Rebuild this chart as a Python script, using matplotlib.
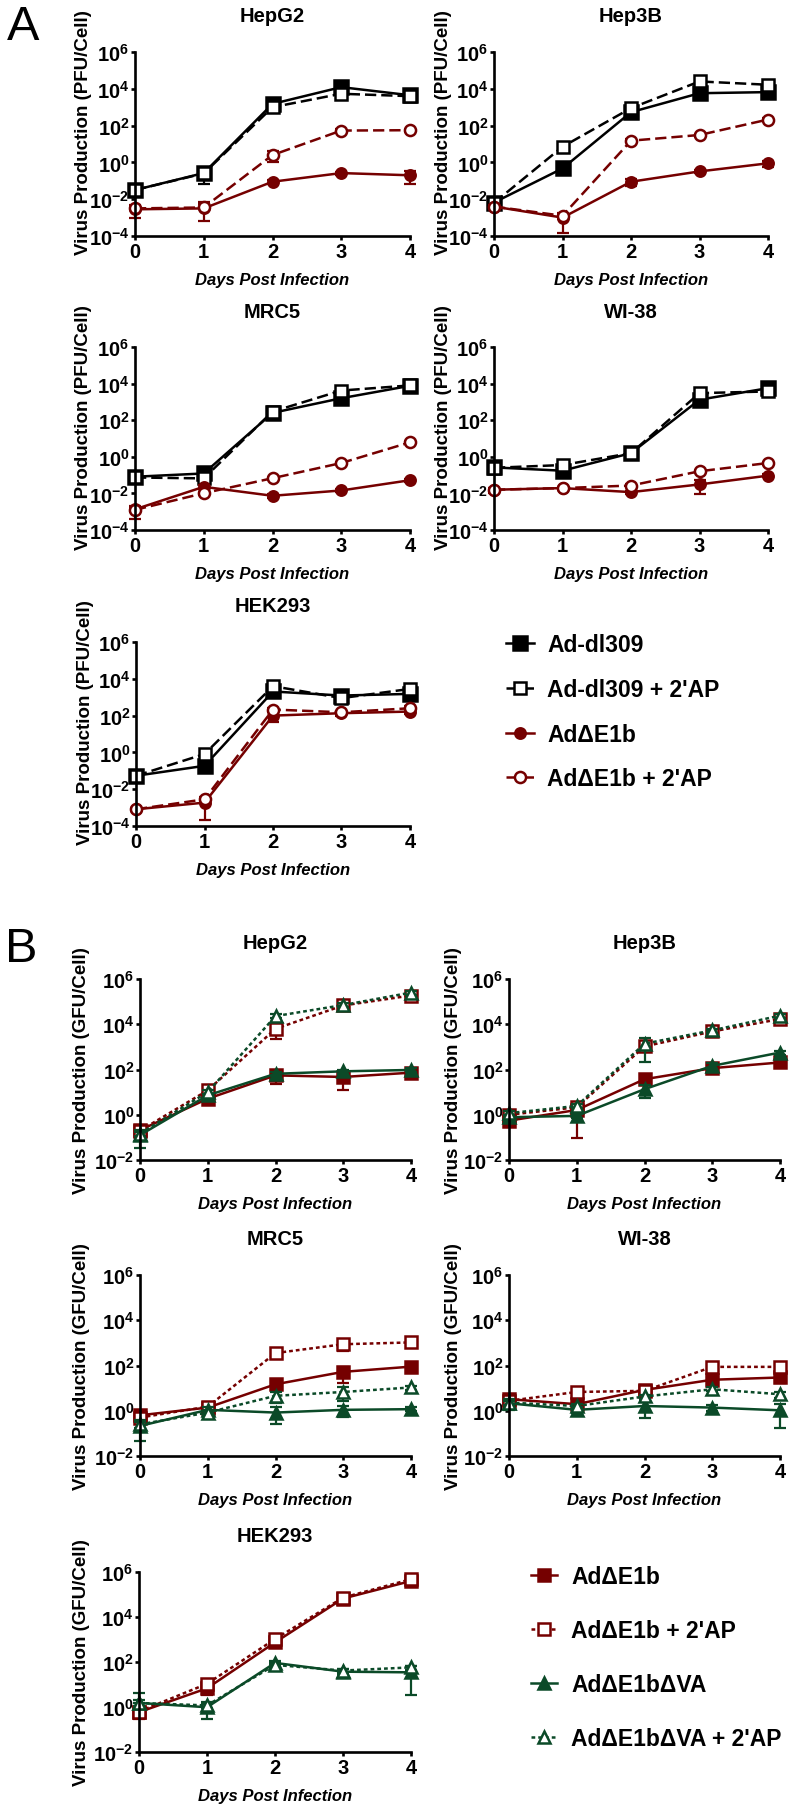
import matplotlib.pyplot as plt
import numpy as np
from matplotlib.lines import Line2D

plt.rcParams['font.family'] = ['Liberation Sans', 'DejaVu Sans']
plt.rcParams['font.weight'] = 'bold'
plt.rcParams['mathtext.fontset'] = 'custom'
plt.rcParams['mathtext.rm'] = 'Liberation Sans:bold'
plt.rcParams['mathtext.bf'] = 'Liberation Sans:bold'

days = [0, 1, 2, 3, 4]

# Panel A: log10(PFU/cell). rows: Ad-dl309, Ad-dl309 + 2'AP, AdΔE1b, AdΔE1b + 2'AP
a_labels = ['Ad-dl309', "Ad-dl309 + 2'AP", 'AdΔE1b', "AdΔE1b + 2'AP"]
a_hepg2 = [[-1.5, -0.58, 3.18, 4.09, 3.65],
           [-1.5, -0.6, 3.0, 3.73, 3.6],
           [-2.55, -2.5, -1.05, -0.58, -0.7],
           [-2.5, -2.45, 0.4, 1.73, 1.75]]
a_hep3b = [[-2.18, -0.33, 2.73, 3.76, 3.82],
           [-2.2, 0.85, 2.95, 4.4, 4.22],
           [-2.4, -3.0, -1.05, -0.49, -0.05],
           [-2.4, -2.9, 1.18, 1.49, 2.33]]
a_mrc5 = [[-1.09, -0.91, 2.4, 3.2, 3.88],
          [-1.13, -1.18, 2.47, 3.62, 3.9],
          [-2.87, -1.64, -2.13, -1.84, -1.28],
          [-2.9, -1.99, -1.17, -0.34, 0.79]]
a_wi38 = [[-0.58, -0.76, 0.2, 3.12, 3.75],
          [-0.6, -0.45, 0.2, 3.48, 3.57],
          [-1.8, -1.71, -1.93, -1.51, -1.03],
          [-1.8, -1.71, -1.57, -0.79, -0.34]]
a_hek293 = [[-1.27, -0.73, 3.31, 3.09, 3.18],
            [-1.27, -0.09, 3.6, 2.95, 3.45],
            [-3.09, -2.73, 2.0, 2.13, 2.22],
            [-3.09, -2.55, 2.33, 2.18, 2.4]]

# relative SD (sd / mean); >= 1 means the lower bar is not drawn
a_hepg2_sd = [[0.2, 0.76, 0.2, 0.2, 0.2],
              [0.2, 0.2, 0.2, 0.2, 0.2],
              [0.65, 0.8, 0.2, 0.2, 0.68],
              [0.2, 1.0, 0.6, 0.2, 0.2]]
a_hep3b_sd = [[0.2, 0.2, 0.2, 0.2, 0.2],
              [0.2, 0.2, 0.2, 0.2, 0.2],
              [0.2, 0.85, 0.4, 0.2, 0.4],
              [0.2, 0.3, 0.2, 0.2, 0.2]]
a_mrc5_sd = [[0.2, 0.2, 0.2, 0.2, 0.2],
             [0.2, 0.2, 0.2, 0.2, 0.2],
             [0.3, 0.2, 0.2, 0.2, 0.2],
             [0.7, 0.2, 0.2, 0.2, 0.2]]
a_wi38_sd = [[0.2, 0.2, 0.2, 0.2, 0.2],
             [0.2, 0.2, 0.2, 0.2, 0.2],
             [0.3, 0.2, 0.2, 0.7, 0.2],
             [0.2, 0.2, 0.2, 0.2, 0.2]]
a_hek293_sd = [[0.2, 0.3, 0.2, 0.2, 0.3],
               [0.2, 0.2, 0.2, 0.3, 0.2],
               [0.2, 0.88, 0.56, 0.3, 0.3],
               [0.2, 0.3, 0.2, 0.2, 0.3]]

# Panel B: log10(GFU/cell). rows: AdΔE1b, AdΔE1b + 2'AP, AdΔE1bΔVA, AdΔE1bΔVA + 2'AP
b_labels = ['AdΔE1b', "AdΔE1b + 2'AP", 'AdΔE1bΔVA', "AdΔE1bΔVA + 2'AP"]
b_hepg2 = [[-0.68, 0.71, 1.74, 1.67, 1.86],
           [-0.7, 1.08, 3.8, 4.83, 5.27],
           [-0.9, 0.86, 1.81, 1.92, 1.98],
           [-0.83, 1.0, 4.36, 4.85, 5.4]]
b_hep3b = [[-0.26, 0.21, 1.57, 2.06, 2.31],
           [0.0, 0.33, 3.02, 3.68, 4.23],
           [-0.11, -0.05, 1.13, 2.16, 2.75],
           [0.07, 0.39, 3.14, 3.73, 4.38]]
b_mrc5 = [[-0.2, 0.14, 1.17, 1.72, 1.95],
          [-0.3, 0.18, 2.55, 2.94, 3.02],
          [-0.67, 0.04, -0.08, 0.04, 0.07],
          [-0.6, -0.08, 0.66, 0.83, 1.03]]
b_wi38 = [[0.51, 0.29, 0.92, 1.37, 1.47],
          [0.44, 0.83, 0.88, 1.94, 1.94],
          [0.33, 0.04, 0.21, 0.14, 0.02],
          [0.36, 0.21, 0.63, 0.95, 0.73]]
b_hek293 = [[-0.23, 0.83, 2.87, 4.82, 5.6],
            [-0.2, 1.03, 3.02, 4.86, 5.68],
            [0.18, -0.01, 1.96, 1.57, 1.54],
            [0.18, 0.07, 1.87, 1.62, 1.76]]

b_hepg2_sd = [[0.4, 0.3, 0.57, 0.74, 0.3],
              [0.3, 0.2, 0.64, 0.2, 0.2],
              [0.74, 0.2, 0.2, 0.2, 0.2],
              [0.2, 0.2, 0.2, 0.2, 0.2]]
b_hep3b_sd = [[0.3, 0.94, 0.2, 0.2, 0.3],
              [0.2, 0.2, 0.4, 0.2, 0.2],
              [0.3, 0.2, 0.6, 0.3, 0.2],
              [0.2, 0.2, 0.85, 0.2, 0.2]]
b_mrc5_sd = [[0.3, 0.2, 0.2, 0.68, 0.2],
             [0.2, 0.2, 0.2, 0.5, 0.2],
             [0.78, 0.4, 0.7, 0.54, 0.2],
             [0.3, 0.3, 0.5, 0.6, 0.2]]
b_wi38_sd = [[0.3, 0.4, 0.2, 0.2, 0.4],
             [0.2, 0.2, 0.2, 0.2, 0.2],
             [0.5, 0.3, 0.7, 0.3, 0.83],
             [0.2, 0.2, 0.2, 0.2, 0.3]]
b_hek293_sd = [[0.5, 0.5, 0.3, 0.3, 0.4],
               [0.2, 0.3, 0.2, 0.2, 0.2],
               [0.3, 0.7, 0.2, 0.3, 0.9],
               [1.9, 0.2, 0.2, 0.2, 0.2]]

red = '#750000'
green = '#0b4a28'
W, H = 794, 1815

a_styles = [('black', 's', True, '-', 9.5),
            ('black', 's', False, (0, (4.5, 2)), 9),
            (red, 'o', True, '-', 7.5),
            (red, 'o', False, (0, (4.5, 2)), 8)]
b_styles = [(red, 's', True, '-', 9),
            (red, 's', False, (0, (1.5, 1.2)), 8.5),
            (green, '^', True, '-', 9),
            (green, '^', False, (0, (1.5, 1.2)), 9)]

fig = plt.figure(figsize=(W / 100, H / 100), dpi=100)


def make_axes(l, t, r, b):
    return fig.add_axes([l / W, 1 - b / H, (r - l) / W, (b - t) / H])


def draw_panel(box, title, vals, sds, styles, unit, ymin, ylab_dx, ylab_dy):
    ax = make_axes(*box)
    w = box[2] - box[0]
    h = box[3] - box[1]
    for v, r, (c, m, filled, ls, ms) in zip(vals, sds, styles):
        y = 10.0 ** np.array(v)
        r = np.array(r)
        up = y * r
        lo = np.where(r < 1, y * r, 0)
        lo = np.minimum(lo, y - ymin)
        cont = ax.errorbar(days, y, yerr=[lo, up], fmt='none', ecolor=c,
                           elinewidth=1.6, capsize=4, capthick=1.6)
        for art in list(cont.lines[1]) + list(cont.lines[2]):
            art.set_clip_on(False)
        ax.plot(days, y, linestyle=ls, color=c, lw=1.8, marker=m, ms=ms,
                mfc=c if filled else 'white', mec=c, mew=1.8, clip_on=False)
    ax.set_yscale('log')
    ax.set_ylim(ymin, 1e6)
    ax.set_xlim(0, 4)
    exps = np.arange(int(np.log10(ymin)), 7, 2)
    ax.set_yticks([10.0 ** e for e in exps])
    ax.set_yticklabels([r'$\mathbf{10^{%d}}$' % e for e in exps], fontsize=14.5)
    ax.minorticks_off()
    ax.set_xticks(days)
    ax.set_xticklabels([str(d) for d in days], fontsize=14.5, fontweight='bold')
    for s in ['top', 'right']:
        ax.spines[s].set_visible(False)
    for s in ['left', 'bottom']:
        ax.spines[s].set_linewidth(1.9)
    ax.tick_params(width=1.9, length=3, pad=1)
    ax.text(0.5, 1 + 36 / h, title, transform=ax.transAxes, ha='center',
            va='center', fontsize=14.5, fontweight='bold')
    ax.set_xlabel('Days Post Infection', fontsize=12, fontweight='bold',
                  fontstyle='italic')
    ax.xaxis.set_label_coords(0.5, -44 / h)
    ax.xaxis.label.set_va('center')
    ax.set_ylabel('Virus Production (%s/Cell)' % unit, fontsize=13.5,
                  fontweight='bold')
    ax.yaxis.set_label_coords(-ylab_dx / w, 0.5 + ylab_dy / h)
    ax.yaxis.label.set_va('center')
    return ax


# Panel A
draw_panel((135, 53, 410, 237), 'HepG2', a_hepg2, a_hepg2_sd, a_styles, 'PFU', 1e-4, 52, 12)
draw_panel((494, 53, 768, 237), 'Hep3B', a_hep3b, a_hep3b_sd, a_styles, 'PFU', 1e-4, 51, 12)
draw_panel((135, 348, 410, 531), 'MRC5', a_mrc5, a_mrc5_sd, a_styles, 'PFU', 1e-4, 52, 12)
draw_panel((494, 348, 768, 531), 'WI-38', a_wi38, a_wi38_sd, a_styles, 'PFU', 1e-4, 51, 12)
draw_panel((136, 643, 410, 827), 'HEK293', a_hek293, a_hek293_sd, a_styles, 'PFU', 1e-4, 51, 12)

# Panel B
draw_panel((140, 980, 411, 1161), 'HepG2', b_hepg2, b_hepg2_sd, b_styles, 'GFU', 1e-2, 58, 0)
draw_panel((509, 980, 780, 1161), 'Hep3B', b_hep3b, b_hep3b_sd, b_styles, 'GFU', 1e-2, 56, 0)
draw_panel((140, 1276, 411, 1457), 'MRC5', b_mrc5, b_mrc5_sd, b_styles, 'GFU', 1e-2, 58, 0)
draw_panel((509, 1276, 780, 1457), 'WI-38', b_wi38, b_wi38_sd, b_styles, 'GFU', 1e-2, 56, 0)
draw_panel((139, 1573, 411, 1753), 'HEK293', b_hek293, b_hek293_sd, b_styles, 'GFU', 1e-2, 58, 0)


def legend_handles(styles):
    return [Line2D([], [], linestyle=ls, color=c, lw=1.8, marker=m, ms=ms,
                   mfc=c if filled else 'white', mec=c, mew=1.8)
            for c, m, filled, ls, ms in styles]


fig.legend(legend_handles(a_styles), a_labels, loc='upper left',
           bbox_to_anchor=(506 / W, 1 - 634 / H), frameon=False,
           handlelength=1.2, handletextpad=0.6, labelspacing=0.95,
           borderpad=0, borderaxespad=0, prop={'weight': 'bold', 'size': 16.5})
fig.legend(legend_handles(b_styles), b_labels, loc='upper left',
           bbox_to_anchor=(531 / W, 1 - 1566 / H), frameon=False,
           handlelength=1.15, handletextpad=0.6, labelspacing=1.35,
           borderpad=0, borderaxespad=0, prop={'weight': 'bold', 'size': 16.5})

fig.text(7 / W, 1 - 28 / H, 'A', fontsize=35, fontweight='normal', va='center', ha='left')
fig.text(5 / W, 1 - 950 / H, 'B', fontsize=35, fontweight='normal', va='center', ha='left')

fig.savefig('out.png', dpi=100)
